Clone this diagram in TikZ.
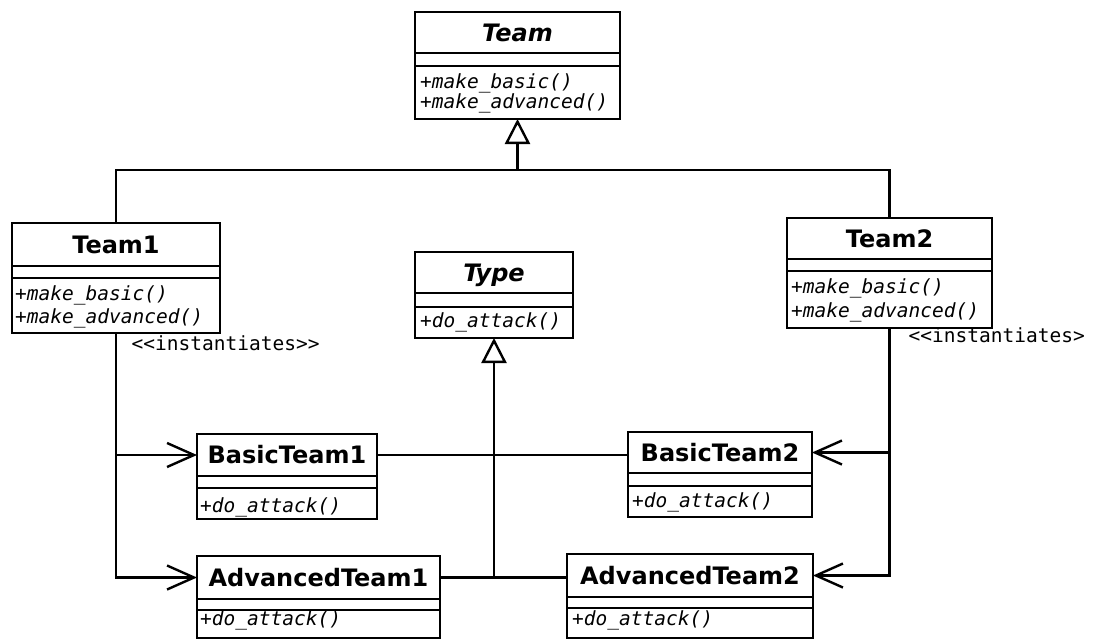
\documentclass[tikz,border=0pt]{standalone}
\usepackage{fontspec}
\setmainfont{DejaVu Sans}
\newfontfamily\codefont{DejaVu Sans Mono}
\usetikzlibrary{arrows.meta,calc}

\tikzset{
  uml/.style={draw, line width=2.6pt, inner sep=0pt, outer sep=0pt, rectangle},
  classname/.style={uml, font=\fontsize{24}{27}\selectfont\bfseries, text height=17.5pt, text depth=0pt},
  abstractname/.style={classname, font=\fontsize{24}{27}\selectfont\bfseries\itshape},
  operation/.style={inner sep=0pt, anchor=base west, font=\fontsize{19.5}{22}\selectfont\codefont\itshape},
  stereo/.style={inner sep=0pt, anchor=base west, font=\fontsize{19.5}{22}\selectfont\codefont},
  assoc/.style={line width=2.4pt},
  realize/.style={assoc, -{Triangle[open, length=25pt, width=25pt]}},
  creates/.style={assoc, -{Straight Barb[length=27pt, width=24pt]}},
}

% #1 name, #2 class name, #3 name style, #4 left, #5 right,
% #6 top, #7 end of name part, #8 end of attribute part, #9 bottom
\newcommand{\umlclass}[9]{%
  \node[#3, minimum width={(#5-#4)*1pt}, minimum height={(#7-#6)*1pt}]
    (#1) at ({(#4+#5)/2},{(#6+#7)/2}) {#2};
  \node[uml, minimum width={(#5-#4)*1pt}, minimum height={(#8-#7)*1pt}]
    (#1-attr) at ({(#4+#5)/2},{(#7+#8)/2}) {};
  \node[uml, minimum width={(#5-#4)*1pt}, minimum height={(#9-#8)*1pt}]
    (#1-ops) at ({(#4+#5)/2},{(#8+#9)/2}) {};
}

\begin{document}
\begin{tikzpicture}[x=1pt, y=-1pt]
\fill[white] (0,0) rectangle (1097,640);
\useasboundingbox (0,0) rectangle (1097,640);

% classes
\umlclass{team}{Team}{abstractname}{415}{620}{12}{53}{66}{119}
\umlclass{team1}{Team1}{classname}{12}{220}{223}{266}{278}{333}
\umlclass{team2}{Team2}{classname}{787}{992}{218}{259}{271}{328}
\umlclass{type}{Type}{abstractname}{415}{573}{252}{293}{307}{338}
\umlclass{bt1}{BasicTeam1}{classname}{197}{377}{434}{476}{488}{519}
\umlclass{at1}{AdvancedTeam1}{classname}{197}{440}{556}{599}{610}{638}
\umlclass{bt2}{BasicTeam2}{classname}{628}{812}{432}{473}{486}{517}
\umlclass{at2}{AdvancedTeam2}{classname}{567}{813}{554}{597}{608}{638}

% operations
\node[operation] (team-op1) at (420,88) {+make\_basic()};
\node[operation] (team-op2) at (420,108) {+make\_advanced()};
\node[operation] (team1-op1) at (15,300) {+make\_basic()};
\node[operation] (team1-op2) at (15,323) {+make\_advanced()};
\node[operation] (team2-op1) at (791,293) {+make\_basic()};
\node[operation] (team2-op2) at (791,317) {+make\_advanced()};
\node[operation] (type-op1) at (420,327) {+do\_attack()};
\node[operation] (bt1-op1) at (200,512) {+do\_attack()};
\node[operation] (at1-op1) at (200,625) {+do\_attack()};
\node[operation] (bt2-op1) at (632,507) {+do\_attack()};
\node[operation] (at2-op1) at (572,625) {+do\_attack()};

% generalisation of the two factories
\path (team-ops.south) ++(0,51) coordinate (teambus);
\draw[assoc] (team1.north) |- (teambus) -| (team2.north);
\draw[realize] (teambus) -- (team-ops.south);

% generalisation of the products
\draw[assoc] (bt1.east) -- (bt1.east -| bt2.west);
\draw[assoc] (at1.east) -- (at1.east -| at2.west);
\path (type-ops.south |- at1.east) coordinate (typebus);
\draw[realize] (typebus) -- (type-ops.south);

% instantiation dependencies
\draw[creates] (team1-ops.south) |- (bt1.west);
\draw[creates] (team1-ops.south) |- (at1.west);
\draw[creates] (team2-ops.south) |- (bt2.east);
\draw[creates] (team2-ops.south) |- (at2.east);

\node[stereo] (inst1) at (131.5,350) {<\kern0pt<instantiates>\kern0pt>};
\node[stereo] (inst2) at (908.5,342) {<\kern0pt<instantiates>};
\end{tikzpicture}
\end{document}
